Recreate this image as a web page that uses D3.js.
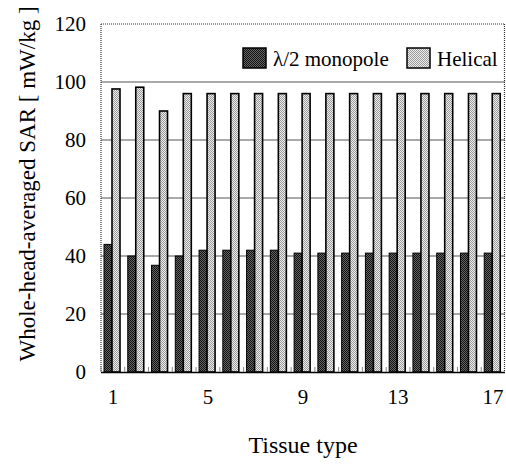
<!DOCTYPE html>
<html><head><meta charset="utf-8">
<script src="https://cdn.jsdelivr.net/npm/d3@7"></script>
<style>
body{margin:0;background:#fff;}
svg#c text, #c text.t { font-family: "Liberation Serif", "Times New Roman", Times, serif !important; }
</style>
</head><body><svg id="c" width="506" height="465"></svg>
<script>
const categories = d3.range(1, 18);
const seriesNames = ["λ/2 monopole", "Helical"];
const monopole = [44, 40, 36.8, 40, 42, 42, 42, 42, 41, 41, 41, 41, 41, 41, 41, 41, 41];
const helical = [97.6, 98.2, 90, 96, 96, 96, 96, 96, 96, 96, 96, 96, 96, 96, 96, 96, 96];
const yTicks = [0, 20, 40, 60, 80, 100, 120];
const xTickLabels = [1, 5, 9, 13, 17];

const svg = d3.select("#c");
const defs = svg.append("defs");
// dark stipple
const p1 = defs.append("pattern").attr("id","dark").attr("width",2).attr("height",2).attr("patternUnits","userSpaceOnUse");
p1.append("rect").attr("width",2).attr("height",2).attr("fill","#666");
p1.append("rect").attr("width",1).attr("height",1).attr("fill","#111");
p1.append("rect").attr("x",1).attr("y",1).attr("width",1).attr("height",1).attr("fill","#111");
// light stipple
const p2 = defs.append("pattern").attr("id","light").attr("width",2).attr("height",2).attr("patternUnits","userSpaceOnUse");
p2.append("rect").attr("width",2).attr("height",2).attr("fill","#eee");
p2.append("rect").attr("width",1).attr("height",1).attr("fill","#999");
p2.append("rect").attr("x",1).attr("y",1).attr("width",1).attr("height",1).attr("fill","#999");

const L = 101, R = 505, T = 24, B = 372;
const x = d3.scaleBand().domain(categories).range([L, R]).padding(0);
const x1 = d3.scaleBand().domain(seriesNames).range([3, 19]).padding(0);
const y = d3.scaleLinear().domain([0, 120]).range([B, T]);

// grid
svg.append("g").selectAll("line").data(yTicks.filter(d => d > 0 && d < 120)).join("line")
  .attr("x1", L).attr("x2", R).attr("y1", d => y(d)).attr("y2", d => y(d))
  .attr("stroke", "#555").attr("stroke-width", 1.2);

// frame dotted
const fr = svg.append("g").attr("stroke","#333").attr("stroke-width",1.2).attr("stroke-dasharray","1,1").attr("fill","none");
fr.append("line").attr("x1",L).attr("x2",R).attr("y1",T).attr("y2",T);
fr.append("line").attr("x1",L).attr("x2",L).attr("y1",T).attr("y2",B);
fr.append("line").attr("x1",R-0.5).attr("x2",R-0.5).attr("y1",T).attr("y2",B);

// bars
const data = [monopole, helical];
const fills = ["url(#dark)", "url(#light)"];
seriesNames.forEach((s, si) => {
  svg.append("g").selectAll("rect").data(categories).join("rect")
    .attr("x", c => x(c) + x1(s))
    .attr("y", (c, i) => y(data[si][i]))
    .attr("width", x1.bandwidth())
    .attr("height", (c, i) => B - y(data[si][i]))
    .attr("fill", fills[si]).attr("stroke", "#000").attr("stroke-width", si === 0 ? 1 : 1.6);
});

// x axis
svg.append("line").attr("x1",L).attr("x2",R).attr("y1",B+0.5).attr("y2",B+0.5).attr("stroke","#000").attr("stroke-width",1.5);
svg.append("g").selectAll("line").data(categories).join("line")
  .attr("x1", c => x(c)).attr("x2", c => x(c)).attr("y1", B).attr("y2", B - 5)
  .attr("stroke", "#888").attr("stroke-width", 1);
svg.append("g").selectAll("text").data(xTickLabels).join("text").attr("class","t")
  .attr("x", c => x(c) + x.bandwidth()/2).attr("y", 404)
  .attr("text-anchor","middle").attr("font-size", 21).text(d => d);

// y axis labels
svg.append("g").selectAll("text").data(yTicks).join("text").attr("class","t")
  .attr("x", 86).attr("y", d => y(d) + 7)
  .attr("text-anchor","end").attr("font-size", 21).text(d => d);

// titles
svg.append("text").attr("class","t").attr("transform","translate(35,184) rotate(-90)")
  .attr("text-anchor","middle").attr("font-size", 23).text("Whole-head-averaged SAR [ mW/kg ]");
svg.append("text").attr("class","t").attr("x", 303).attr("y", 453).attr("text-anchor","middle").attr("font-size", 24).text("Tissue type");

// legend
const leg = [{x:243, tx:273}, {x:407, tx:437}];
seriesNames.forEach((s, i) => {
  svg.append("rect").attr("x", leg[i].x).attr("y", 48).attr("width", 23).attr("height", 20)
    .attr("fill", fills[i]).attr("stroke","#000").attr("stroke-width", 1.5);
  svg.append("text").attr("class","t").attr("x", leg[i].tx).attr("y", 66).attr("font-size", 21).text(s);
});
</script></body></html>
